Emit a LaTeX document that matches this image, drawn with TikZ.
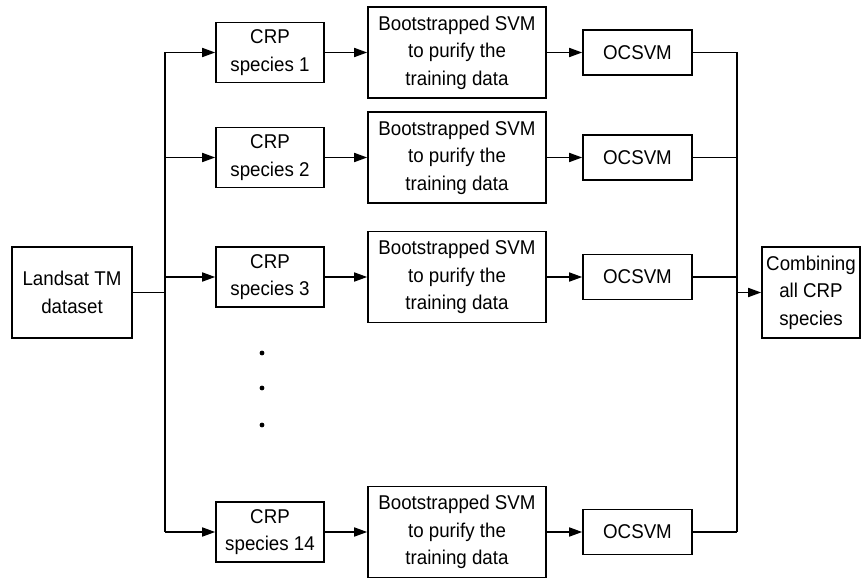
\documentclass[tikz,border=0pt]{standalone}
\usepackage{fontspec}
\setmainfont[FakeStretch=0.94]{Liberation Sans}
\usetikzlibrary{arrows.meta}
\begin{document}
\begin{tikzpicture}[x=1bp,y=-1bp,
  box/.style={draw, line width=1.6bp, align=center, inner sep=0pt,
    font=\fontsize{20}{27.5}\selectfont},
  crpbox/.style={box, minimum width=108bp, minimum height=60bp},
  bootbox/.style={box, minimum width=178bp, minimum height=91bp},
  ocbox/.style={box, minimum width=109bp, minimum height=45bp},
  bigbox/.style={box, minimum width=120bp, minimum height=91bp},
  link/.style={line width=1.6bp},
  arr/.style={link, -{Triangle[length=13bp,width=9bp]}}]
\useasboundingbox (0,0) rectangle (861,579);

% input and output
\node[bigbox] (land) at (72,292.5) {Landsat TM\\dataset};
\node[box, minimum width=98bp, minimum height=91bp] (comb) at (811,292.5) {Combining\\all CRP\\species};

% one processing chain per species
\foreach \i/\y/\lab in {1/52.5/1, 2/157.5/2, 3/277/3, 14/532/14}{
  \node[crpbox] (crp\i) at (270,\y) {CRP\\species \lab};
  \node[bootbox] (boot\i) at (457,\y) {Bootstrapped SVM\\to purify the\\training data};
  \node[ocbox] (oc\i) at (637.5,\y) {OCSVM};
  \draw[arr] (crp\i) -- (boot\i);
  \draw[arr] (boot\i) -- (oc\i);
}

% fan-out from the dataset
\coordinate (splitTop) at (165,52.5);
\coordinate (splitBot) at (165,532);
\draw[link] (splitTop) -- (splitBot);
\draw[link] (land.east) -- (land.east -| splitTop);
\foreach \i in {1,2,3,14}{
  \draw[arr] (splitTop |- crp\i) -- (crp\i);
}

% fan-in to the combination step
\coordinate (joinTop) at (737,52.5);
\coordinate (joinBot) at (737,532);
\draw[link] (joinTop) -- (joinBot);
\foreach \i in {1,2,3,14}{
  \draw[link] (oc\i) -- (joinTop |- oc\i);
}
\draw[arr] (joinTop |- comb) -- (comb);

% omitted species
\foreach \y in {353,388,425}{
  \fill (262,\y) circle (2.4bp);
}
\end{tikzpicture}
\end{document}
